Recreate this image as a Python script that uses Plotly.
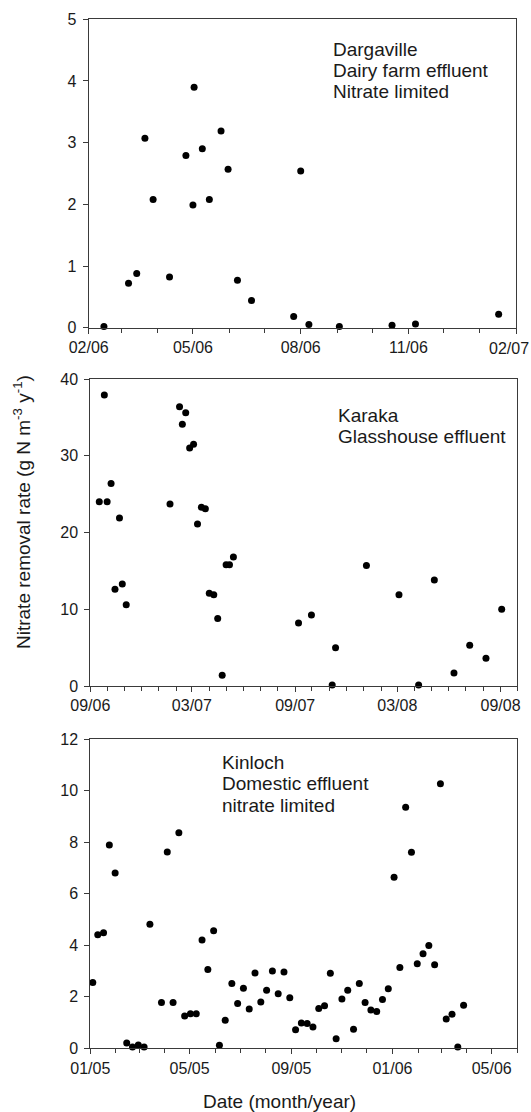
import plotly.graph_objects as go

W, H = 531, 1112
FONT = "Liberation Sans, Arial, sans-serif"

# ---- Data ----
darg_dates = ["2006-02-14", "2006-03-07", "2006-03-14", "2006-03-21", "2006-03-28",
              "2006-04-11", "2006-04-25", "2006-05-01", "2006-05-02", "2006-05-09",
              "2006-05-15", "2006-05-25", "2006-05-31", "2006-06-08", "2006-06-20",
              "2006-07-26", "2006-08-01", "2006-08-08", "2006-09-03", "2006-10-18",
              "2006-11-07", "2007-01-17"]
darg_vals = [0.02, 0.72, 0.88, 3.07, 2.08, 0.82, 2.79, 1.99, 3.90, 2.90,
             2.08, 3.19, 2.57, 0.77, 0.44, 0.18, 2.54, 0.05, 0.02, 0.04,
             0.06, 0.22]

kara_dates = ["2006-09-17", "2006-09-26", "2006-10-01", "2006-10-08", "2006-10-15",
              "2006-10-23", "2006-10-28", "2006-11-04", "2007-01-21", "2007-02-07",
              "2007-02-12", "2007-02-18", "2007-02-25", "2007-03-04", "2007-03-11",
              "2007-03-18", "2007-03-25", "2007-04-01", "2007-04-09", "2007-04-16",
              "2007-04-24", "2007-05-01", "2007-05-07", "2007-05-14", "2007-09-07",
              "2007-09-30", "2007-11-06", "2007-11-12", "2008-01-06", "2008-03-04",
              "2008-04-08", "2008-05-06", "2008-06-10", "2008-07-08", "2008-08-06",
              "2008-09-03"]
kara_vals = [24.0, 37.9, 24.0, 26.4, 12.6, 21.9, 13.3, 10.6, 23.7, 36.4,
             34.1, 35.6, 31.0, 31.5, 21.1, 23.3, 23.1, 12.1, 11.9, 8.8,
             1.4, 15.8, 15.8, 16.8, 8.2, 9.25, 0.13, 5.0, 15.7, 11.9,
             0.13, 13.8, 1.7, 5.3, 3.6, 10.0]

kin_dates = ["2005-01-04", "2005-01-10", "2005-01-17", "2005-01-24", "2005-01-31",
             "2005-02-14", "2005-02-21", "2005-02-28", "2005-03-07", "2005-03-14",
             "2005-03-28", "2005-04-04", "2005-04-11", "2005-04-18", "2005-04-25",
             "2005-05-02", "2005-05-09", "2005-05-16", "2005-05-23", "2005-05-30",
             "2005-06-06", "2005-06-13", "2005-06-21", "2005-06-28", "2005-07-05",
             "2005-07-12", "2005-07-19", "2005-07-26", "2005-08-02", "2005-08-09",
             "2005-08-16", "2005-08-23", "2005-08-30", "2005-09-06", "2005-09-13",
             "2005-09-20", "2005-09-27", "2005-10-04", "2005-10-11", "2005-10-18",
             "2005-10-25", "2005-11-01", "2005-11-08", "2005-11-15", "2005-11-22",
             "2005-11-29", "2005-12-06", "2005-12-13", "2005-12-20", "2005-12-27",
             "2006-01-03", "2006-01-10", "2006-01-17", "2006-01-24", "2006-01-31",
             "2006-02-07", "2006-02-14", "2006-02-21", "2006-02-28", "2006-03-07",
             "2006-03-14", "2006-03-21", "2006-03-28"]
kin_vals = [2.55, 4.41, 4.48, 7.89, 6.80, 0.21, 0.05, 0.13, 0.05, 4.81,
            1.78, 7.62, 1.78, 8.36, 1.25, 1.34, 1.34, 4.20, 3.06, 4.56,
            0.12, 1.09, 2.51, 1.74, 2.33, 1.52, 2.92, 1.80, 2.25, 3.00,
            2.12, 2.96, 1.96, 0.72, 0.98, 0.96, 0.83, 1.54, 1.65, 2.91,
            0.37, 1.91, 2.25, 0.74, 2.51, 1.78, 1.49, 1.43, 1.89, 2.31,
            6.64, 3.13, 9.35, 7.61, 3.28, 3.67, 3.99, 3.24, 10.26, 1.14,
            1.32, 0.05, 1.67]

panel_labels = [["Dargaville", "Dairy farm effluent", "Nitrate limited"],
                ["Karaka", "Glasshouse effluent"],
                ["Kinloch", "Domestic effluent", "nitrate limited"]]

last_tick_label = "02/07"   # end-of-axis label of the top panel, kept inside the page
y_title = "Nitrate removal rate (g N m<sup>-3</sup> y<sup>-1</sup>)"
x_title = "Date (month/year)"

# ---- Layout helpers (pixel -> paper) ----
def px(x):
    return x / W

def py(y):
    return 1 - y / H

AXCOL = "#3a3a3a"
TXT = "#1a1a1a"

fig = go.Figure()
series = [(darg_dates, darg_vals), (kara_dates, kara_vals), (kin_dates, kin_vals)]
for i, (d, v) in enumerate(series):
    suffix = "" if i == 0 else str(i + 1)
    fig.add_trace(go.Scatter(x=d, y=v, mode="markers",
                             marker=dict(color="black", size=7),
                             xaxis="x" + suffix, yaxis="y" + suffix,
                             showlegend=False, cliponaxis=False))

boxes = [  # left, right, top, bottom in px
    (88.7, 516.4, 19.3, 327.7),
    (90.3, 517.4, 379.0, 686.0),
    (90.3, 517.4, 739.0, 1048.3),
]
xranges = [["2006-02-01", "2007-02-01 04:00"], ["2006-09-01", "2008-10-01"],
           ["2005-01-01", "2006-06-01"]]
xticks0 = ["2006-02-01", "2006-09-01", "2005-01-01"]
xdticks = ["M3", "M6", "M4"]
yranges = [[0, 5], [0, 40], [0, 12]]
ydticks = [1, 10, 2]

layout = dict(template="none", width=W, height=H,
              margin=dict(l=0, r=0, t=0, b=0, pad=0, autoexpand=False),
              paper_bgcolor="white", plot_bgcolor="white",
              font=dict(family=FONT, color=TXT, size=16), showlegend=False)

for i in range(3):
    l, r, t, b = boxes[i]
    xs = "xaxis" if i == 0 else "xaxis%d" % (i + 1)
    ys = "yaxis" if i == 0 else "yaxis%d" % (i + 1)
    xn = "x" if i == 0 else "x%d" % (i + 1)
    yn = "y" if i == 0 else "y%d" % (i + 1)
    layout[xs] = dict(type="date", domain=[px(l), px(r)], anchor=yn,
                      range=xranges[i], dtick=xdticks[i], tick0=xticks0[i],
                      tickformat="%m/%y", ticks="outside", ticklen=5,
                      tickcolor=AXCOL, tickwidth=1, automargin=False,
                      ticklabeloverflow="allow",
                      minor=dict(dtick="M1", ticks="outside", ticklen=4,
                                 tickcolor=AXCOL, tickwidth=1, showgrid=False),
                      showline=True, linecolor=AXCOL, linewidth=1, mirror=True,
                      showgrid=False, zeroline=False,
                      tickfont=dict(family=FONT, size=16, color=TXT))
    layout[ys] = dict(domain=[py(b), py(t)], anchor=xn, range=yranges[i],
                      dtick=ydticks[i], tick0=0, ticks="outside", ticklen=5,
                      tickcolor=AXCOL, tickwidth=1, automargin=False,
                      ticklabelstandoff=3,
                      showline=True, linecolor=AXCOL, linewidth=1, mirror=True,
                      showgrid=False, zeroline=False,
                      tickfont=dict(family=FONT, size=16, color=TXT))

# the top panel's last label would overflow the page; draw it right-aligned instead
layout["xaxis"]["labelalias"] = {last_tick_label: " "}

anns = []
label_pos = [(331, [49.3, 70.7, 91.7]), (336, [415.7, 436.7]), (220, [762.7, 784.0, 805.0])]
for (lx, lys), lines in zip(label_pos, panel_labels):
    for ly, txt in zip(lys, lines):
        anns.append(dict(text=txt, x=px(lx), y=py(ly), xref="paper", yref="paper",
                         xanchor="left", yanchor="middle", showarrow=False,
                         font=dict(family=FONT, size=19, color=TXT)))
anns.append(dict(text=last_tick_label, x=px(530), y=py(348), xref="paper", yref="paper",
                 xanchor="right", yanchor="middle", showarrow=False,
                 borderpad=0, font=dict(family=FONT, size=16, color=TXT)))
anns.append(dict(text=y_title, x=px(22), y=py(512), xref="paper", yref="paper",
                 xanchor="center", yanchor="middle", textangle=-90, showarrow=False,
                 font=dict(family=FONT, size=19, color=TXT)))
anns.append(dict(text=x_title, x=px(279), y=py(1101.7), xref="paper", yref="paper",
                 xanchor="center", yanchor="middle", showarrow=False,
                 font=dict(family=FONT, size=19, color=TXT)))
layout["annotations"] = anns

fig.update_layout(**layout)
fig.write_html("out.html")
